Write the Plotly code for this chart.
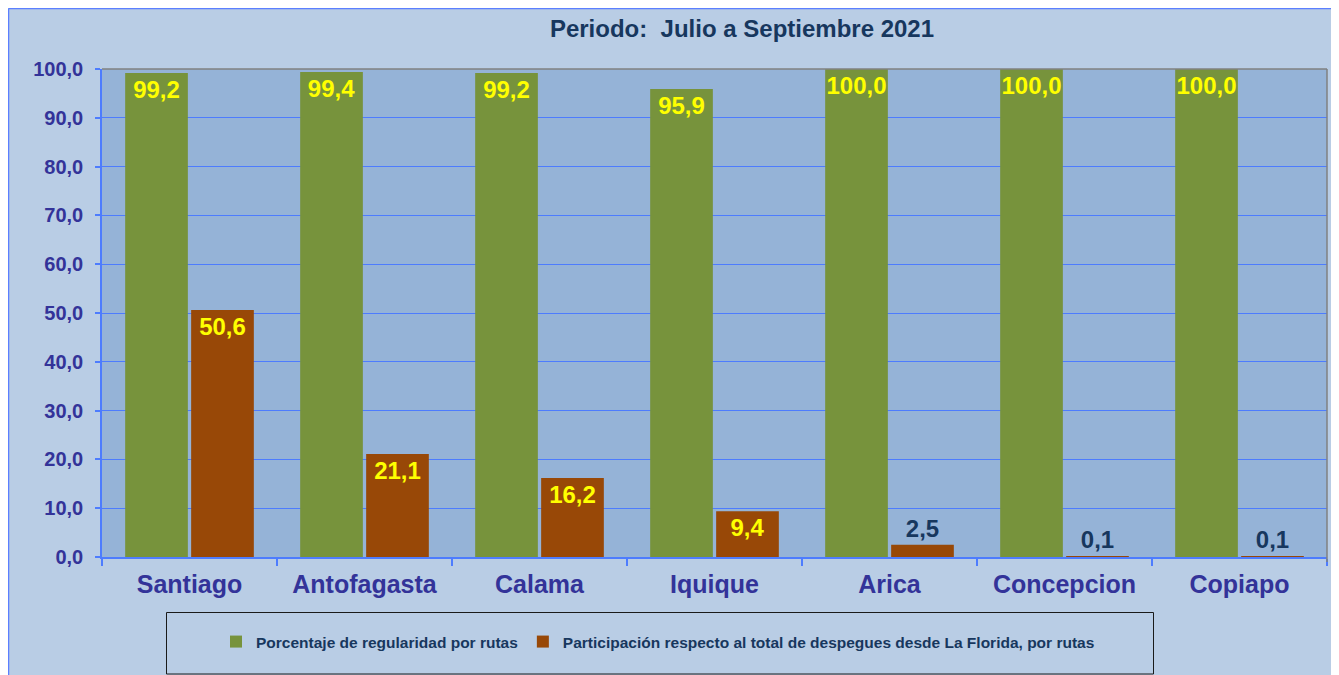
import plotly.graph_objects as go

categories = ["Santiago", "Antofagasta", "Calama", "Iquique", "Arica", "Concepcion", "Copiapo"]
regularidad = [99.2, 99.4, 99.2, 95.9, 100.0, 100.0, 100.0]
participacion = [50.6, 21.1, 16.2, 9.4, 2.5, 0.1, 0.1]
y_ticks = [0, 10, 20, 30, 40, 50, 60, 70, 80, 90, 100]

series1_name = "Porcentaje de regularidad por rutas"
series2_name = "Participación respecto al total de despegues desde La Florida, por rutas"
title_text = "Periodo:  Julio a Septiembre 2021"

# page places the figure 8px from the top-left corner (body margin)
OFF = 8
W, H = 1331, 667
L, R, T, B = 94, 12, 61, 118
PW, PH = W - L - R, H - T - B

def px(x):  # screen x -> paper x
    return (x - OFF - L) / PW

def py(y):  # screen y -> paper y
    return (H - B - (y - OFF)) / PH

FONT = "Liberation Sans, Arial, sans-serif"
GREEN = "#77933C"
ORANGE = "#984807"
YELLOW = "#FFFF00"
NAVY = "#17375E"
AXIS_TXT = "#333399"
GRID = "#4D7CFE"

fig = go.Figure()
fig.add_trace(go.Bar(
    x=categories, y=regularidad, name=series1_name,
    marker=dict(color=GREEN, line=dict(width=0)),
    text=[f"{v:.1f}".replace(".", ",") for v in regularidad],
    textposition="inside", insidetextanchor="end", textangle=0,
    insidetextfont=dict(color=YELLOW, size=24, family=FONT, weight="bold"),
    constraintext="none", cliponaxis=False,
))
fig.add_trace(go.Bar(
    x=categories, y=participacion, name=series2_name,
    marker=dict(color=ORANGE, line=dict(width=0)),
    text=[f"{v:.1f}".replace(".", ",") for v in participacion],
    textposition=["inside" if v > 5 else "outside" for v in participacion],
    insidetextanchor="end", textangle=0,
    insidetextfont=dict(color=YELLOW, size=24, family=FONT, weight="bold"),
    outsidetextfont=dict(color=NAVY, size=24, family=FONT, weight="bold"),
    constraintext="none", cliponaxis=False,
))

shapes = [
    # chart area border (top and left)
    dict(type="line", xref="paper", yref="paper", layer="below",
         x0=px(OFF + 0.5), x1=px(OFF + W + 5), y0=py(OFF + 0.5), y1=py(OFF + 0.5),
         line=dict(color="#5B7FFF", width=1.5)),
    dict(type="line", xref="paper", yref="paper", layer="below",
         x0=px(OFF + 0.5), x1=px(OFF + 0.5), y0=py(OFF + 0.5), y1=py(OFF + H + 5),
         line=dict(color="#5B7FFF", width=1.5)),
    # plot area top & right border
    dict(type="line", xref="paper", yref="paper", x0=0, x1=1, y0=1, y1=1,
         line=dict(color="#808080", width=1.5)),
    dict(type="line", xref="paper", yref="paper", x0=1, x1=1, y0=py(562), y1=1,
         line=dict(color="#808080", width=1.5)),
    # legend box
    dict(type="rect", xref="paper", yref="paper",
         x0=px(166.5), x1=px(1153.5), y0=py(674), y1=py(612.5),
         fillcolor="rgba(0,0,0,0)", line=dict(color="#1A1A1A", width=1)),
]

fig.update_layout(
    width=W, height=H,
    margin=dict(l=L, r=R, t=T, b=B, pad=0),
    paper_bgcolor="#B9CDE5",
    plot_bgcolor="#95B3D7",
    separators=",.",
    font=dict(family=FONT, color=AXIS_TXT),
    barmode="group", bargap=0.246, bargroupgap=0.05,
    title=dict(text=title_text, x=px(742), xref="paper", xanchor="center",
               y=1 - (29 - OFF) / H, yanchor="middle",
               font=dict(size=24, color=NAVY, family=FONT, weight="bold")),
    showlegend=True,
    legend=dict(orientation="h", x=px(658), xanchor="center", y=py(642), yanchor="middle",
                bgcolor="rgba(0,0,0,0)", borderwidth=0,
                font=dict(size=15.5, color=NAVY, family=FONT, weight="bold"),
                itemwidth=30, tracegroupgap=0, traceorder="normal"),
    shapes=shapes,
    xaxis=dict(showgrid=False, showline=True, linecolor=GRID, linewidth=1.5,
               ticks="outside", tickson="boundaries", ticklen=7, tickcolor=GRID, tickwidth=1.5,
               tickfont=dict(size=25, color=AXIS_TXT, family=FONT, weight="bold"),
               ticklabelstandoff=4),
    yaxis=dict(range=[0, 100], tickvals=y_ticks, tickformat=".1f",
               showgrid=True, gridcolor=GRID, gridwidth=1.2,
               showline=True, linecolor=GRID, linewidth=1.5,
               ticks="outside", ticklen=5, tickcolor=GRID, tickwidth=1.5,
               tickfont=dict(size=20, color=AXIS_TXT, family=FONT, weight="bold"),
               zeroline=False, ticklabelstandoff=8),
)

fig.write_html("out.html")
